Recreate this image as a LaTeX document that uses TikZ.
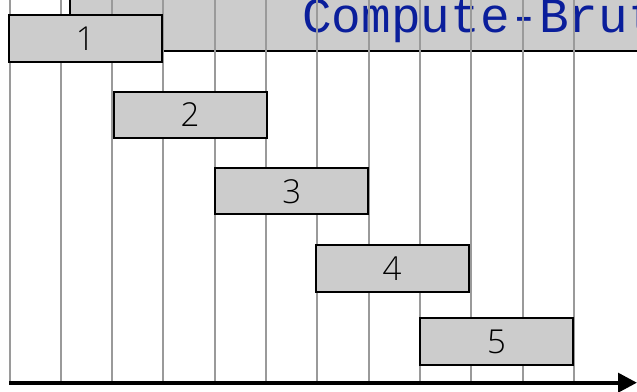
\documentclass[tikz,border=0pt]{standalone}
\usepackage{fontspec}
\usetikzlibrary{arrows.meta}
\newfontfamily\numfont{Open Sans}[UprightFont={* Light}]
\newfontfamily\codefont{Liberation Mono}
\definecolor{boxgray}{HTML}{CCCCCC}
\definecolor{gridgray}{HTML}{9A9A9A}
\definecolor{codeblue}{RGB}{10,30,155}
\tikzset{
  x=1pt, y=1pt,
  jobbox/.style={draw=black, line width=2pt, fill=boxgray, rectangle,
    minimum width=153pt, minimum height=46.4pt, inner sep=0pt,
    font=\numfont\fontsize{33}{33}\selectfont},
  gridline/.style={draw=gridgray, line width=2pt},
  timeaxis/.style={line width=4pt, -{Triangle[length=19pt,width=19pt]}},
}
\begin{document}
\begin{tikzpicture}
\useasboundingbox (0,0) rectangle (637,391);
\clip (0,0) rectangle (637,391);
% heading bar, partly outside the frame
\node[rectangle, fill=boxgray, draw=black, line width=2pt, anchor=south west,
      minimum width=600pt, minimum height=80pt, inner sep=0pt] (titlebox) at (68.8,338.5) {};
\node[anchor=base west, inner sep=0pt, text=codeblue,
      font=\codefont\fontsize{49.4}{49.4}\selectfont] (titletext) at (302,358) {Compute-Brut};
% time slots
\foreach \k in {0,...,11}
  \draw[gridline] (9.5+51.3*\k,391) -- (9.5+51.3*\k,8.3);
% jobs
\node[jobbox] (b1) at (85.2,352.5) {1};
\node[jobbox] (b2) at (190,276.1) {2};
\node[jobbox] (b3) at (291.8,199.7) {3};
\node[jobbox] (b4) at (392,122.5) {4};
\node[jobbox] (b5) at (496.5,49.5) {5};
% time axis
\coordinate (ax0) at (9,8.3);
\coordinate (ax1) at (637,8.3);
\draw[timeaxis] (ax0) -- (ax1);
\end{tikzpicture}
\end{document}
